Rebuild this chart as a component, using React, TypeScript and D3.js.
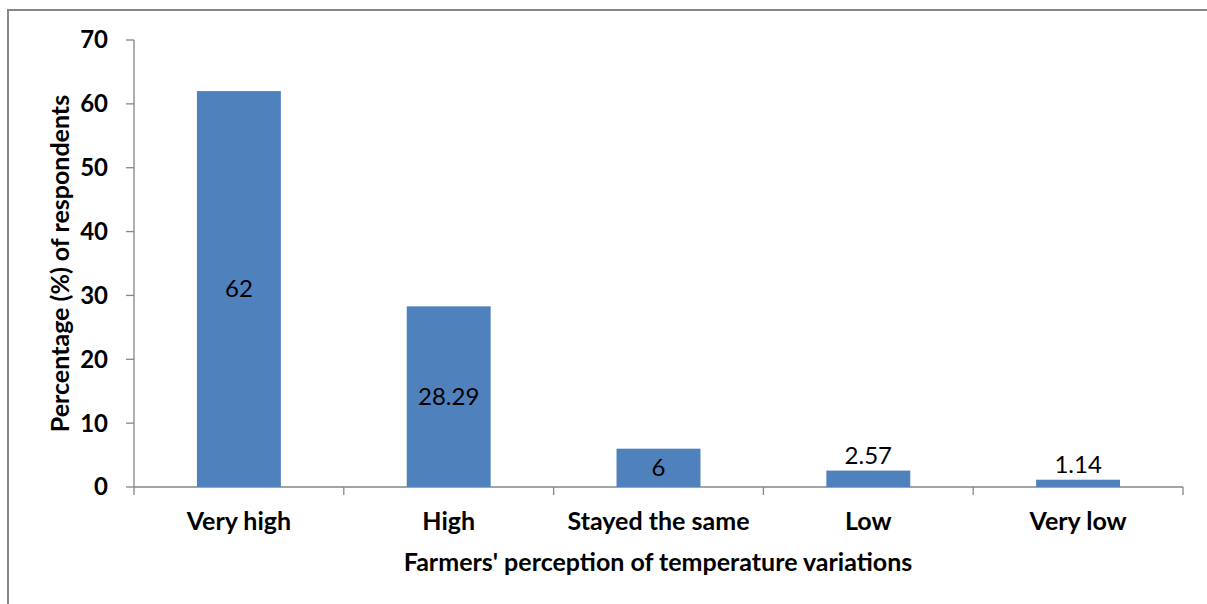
import * as d3 from 'd3';

const categories = ['Very high', 'High', 'Stayed the same', 'Low', 'Very low'];
const values = [62, 28.29, 6, 2.57, 1.14];
const valueLabels = ['62', '28.29', '6', '2.57', '1.14'];
const yTicks = [0, 10, 20, 30, 40, 50, 60, 70];

const FONT = 'Lato, "Open Sans", sans-serif';
const AXIS = '#868686';
const BAR = '#4F81BD';
const FS = 25;

export default function App() {
  const width = 1207;
  const height = 604;
  const margin = { top: 40, right: 24, bottom: 117, left: 134 };
  const plotW = width - margin.left - margin.right;
  const plotH = height - margin.top - margin.bottom;

  const x = d3
    .scaleBand()
    .domain(categories)
    .range([margin.left, margin.left + plotW])
    .paddingInner(0.6)
    .paddingOuter(0.3);

  const y = d3
    .scaleLinear()
    .domain([0, 70])
    .range([margin.top + plotH, margin.top]);

  const step = x.step();
  const bounds = d3.range(categories.length + 1).map((i) => margin.left + i * step);

  return (
    <svg
      width={width}
      height={height}
      style={{ position: 'fixed', left: 0, top: 0, display: 'block', overflow: 'hidden' }}
    >
      {/* outer chart frame, cut by the picture edge on the right and bottom */}
      <rect x={8} y={10} width={width + 100} height={height + 100} fill="#fff" stroke={AXIS} strokeWidth={2} />

      {/* y axis */}
      <line x1={margin.left} x2={margin.left} y1={y(70)} y2={y(0)} stroke={AXIS} strokeWidth={1.3} />
      {yTicks.map((t) => (
        <g key={t}>
          <line x1={margin.left - 8} x2={margin.left} y1={y(t)} y2={y(t)} stroke={AXIS} strokeWidth={1.3} />
          <text
            x={108}
            y={y(t)}
            dy="0.35em"
            textAnchor="end"
            fontFamily={FONT}
            fontWeight="bold"
            fontSize={FS - 1}
          >
            {t}
          </text>
        </g>
      ))}

      {/* x axis */}
      <line x1={margin.left} x2={margin.left + plotW} y1={y(0)} y2={y(0)} stroke={AXIS} strokeWidth={1.3} />
      {bounds.map((b, i) => (
        <line key={i} x1={b} x2={b} y1={y(0)} y2={y(0) + 8} stroke={AXIS} strokeWidth={1.3} />
      ))}

      {/* bars */}
      {categories.map((c, i) => (
        <rect
          key={c}
          x={x(c)!}
          y={y(values[i])}
          width={x.bandwidth()}
          height={y(0) - y(values[i])}
          fill={BAR}
        />
      ))}

      {/* data labels: centred inside tall bars, above short ones */}
      {categories.map((c, i) => {
        const inside = values[i] >= 5;
        const cy = inside ? (y(values[i]) + y(0)) / 2 : y(values[i]) - 15;
        return (
          <text
            key={c}
            x={x(c)! + x.bandwidth() / 2}
            y={cy}
            dy="0.35em"
            textAnchor="middle"
            fontFamily={FONT}
            fontSize={FS - 1}
            fill="#000"
          >
            {valueLabels[i]}
          </text>
        );
      })}

      {/* category labels */}
      {categories.map((c) => (
        <text
          key={c}
          x={x(c)! + x.bandwidth() / 2}
          y={521}
          dy="0.35em"
          textAnchor="middle"
          fontFamily={FONT}
          fontWeight="bold"
          fontSize={FS}
        >
          {c}
        </text>
      ))}

      {/* axis titles */}
      <text
        x={658}
        y={562}
        dy="0.35em"
        textAnchor="middle"
        fontFamily={FONT}
        fontWeight="bold"
        fontSize={FS}
      >
        Farmers' perception of temperature variations
      </text>
      <text
        transform={`translate(60, ${(y(0) + y(70)) / 2}) rotate(-90)`}
        dy="0.35em"
        textAnchor="middle"
        fontFamily={FONT}
        fontWeight="bold"
        fontSize={FS}
      >
        Percentage (%) of respondents
      </text>
    </svg>
  );
}
